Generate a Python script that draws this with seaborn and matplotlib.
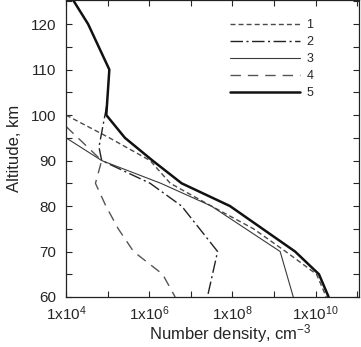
import numpy as np
import pandas as pd
import matplotlib
matplotlib.use("Agg")
import matplotlib.pyplot as plt
import matplotlib.ticker as mticker
import seaborn as sns

# altitude profiles (km, cm^-3)
alt_1 = [100, 95, 90, 85, 80, 75, 70, 65, 60]
dens_1 = [1e4, 1.1e5, 1.05e6, 3.2e6, 3.1e7, 3.2e8, 1.9e9, 1.05e10, 1.8e10]

alt_2 = [102, 93, 90, 85, 80, 70, 60]
dens_2 = [9.5e4, 6.2e4, 7.2e4, 1.05e6, 6e6, 4.4e7, 2.5e7]

alt_3 = [95, 90, 85, 80, 70, 60]
dens_3 = [1e4, 7.2e4, 1.9e6, 3.1e7, 1.4e9, 2.9e9]

alt_4 = [97.5, 90, 85, 80, 75, 70, 65, 60]
dens_4 = [1e4, 7.2e4, 5.1e4, 9.1e4, 1.8e5, 4.2e5, 2.1e6, 4.2e6]

alt_5 = [125, 120, 110, 100, 95, 90, 85, 80, 70, 65, 60]
dens_5 = [1.55e4, 3.4e4, 1.1e5, 9.3e4, 2.6e5, 1.2e6, 6e6, 8.7e7, 3.2e9, 1.2e10, 2.05e10]

labels = ["1", "2", "3", "4", "5"]
xtick_vals = [1e4, 1e6, 1e8, 1e10]
xtick_text = ["1x10$^{4}$", "1x10$^{6}$", "1x10$^{8}$", "1x10$^{10}$"]

sns.set_style("ticks")
plt.rcParams["font.family"] = ["Liberation Sans", "DejaVu Sans"]
plt.rcParams["mathtext.default"] = "regular"

fig = plt.figure(figsize=(3.61, 3.47), dpi=100)
ax = fig.add_axes([66 / 361, 50 / 347, 293 / 361, 297 / 347])
ax.set_xscale("log")

styles = [
    dict(color="#4a4a4a", lw=1.0, linestyle=(0, (3.6, 2.2))),
    dict(color="#222222", lw=1.0, linestyle=(0, (9, 2.5, 1.5, 2.5))),
    dict(color="#3a3a3a", lw=0.8, linestyle="-"),
    dict(color="#555555", lw=1.0, linestyle=(0, (7.5, 5))),
    dict(color="#111111", lw=1.8, linestyle="-"),
]
series = [(dens_1, alt_1), (dens_2, alt_2), (dens_3, alt_3), (dens_4, alt_4), (dens_5, alt_5)]

for (x, y), lab, st in zip(series, labels, styles):
    sns.lineplot(x=x, y=y, sort=False, estimator=None, ax=ax, label=lab, **st)

ax.set_xlim(1e4, 1.1e11)
ax.set_ylim(60, 125.3)

ax.xaxis.set_major_locator(mticker.FixedLocator(xtick_vals))
ax.xaxis.set_major_formatter(mticker.FixedFormatter(xtick_text))
ax.xaxis.set_minor_locator(mticker.FixedLocator([1e5, 1e7, 1e9, 1e11]))
ax.xaxis.set_minor_formatter(mticker.NullFormatter())
ax.yaxis.set_major_locator(mticker.MultipleLocator(10))
ax.yaxis.set_minor_locator(mticker.MultipleLocator(5))

ax.tick_params(which="both", direction="in", top=True, right=True, labelsize=11, width=0.8)
ax.tick_params(which="major", length=4.5)
ax.tick_params(which="minor", length=4.5)
ax.tick_params(axis="x", pad=5)
ax.tick_params(axis="y", pad=7)
for s in ax.spines.values():
    s.set_linewidth(0.9)
    s.set_color("#222222")

ax.set_ylabel("Altitude, km", fontsize=12)
ax.set_xlabel("Number density, cm$^{-3}$", fontsize=12)
ax.xaxis.set_label_coords(0.56, -0.085)
ax.yaxis.set_label_coords(-0.15, 0.5)

ax.legend(loc="upper left", bbox_to_anchor=(230 / 361, 1 - 19 / 347), bbox_transform=fig.transFigure,
          frameon=False, fontsize=9, handlelength=5.6, handletextpad=0.5, labelspacing=0.4,
          borderpad=0, borderaxespad=0)

fig.savefig("out.png", dpi=100)
